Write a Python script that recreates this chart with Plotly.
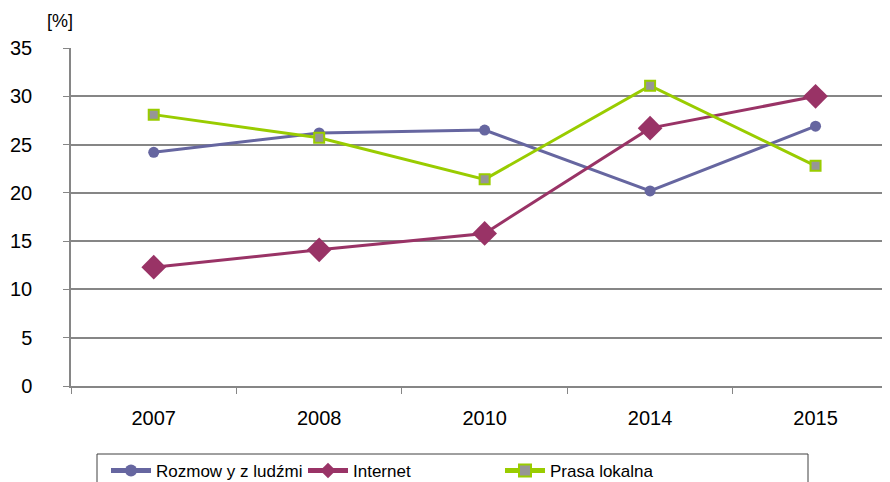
import plotly.graph_objects as go

years = ["2007", "2008", "2010", "2014", "2015"]
rozmowy = [24.2, 26.2, 26.5, 20.2, 26.9]
internet = [12.3, 14.1, 15.8, 26.7, 30.0]
prasa = [28.1, 25.7, 21.4, 31.1, 22.8]
y_ticks = [0, 5, 10, 15, 20, 25, 30, 35]

FONT = "Liberation Sans, Arial, sans-serif"

# page has an 8px body margin, so the figure is sized/offset to compensate
W, H = 882, 474
L, T, B = 63, 40, 96
PW, PH = W - L, H - T - B

fig = go.Figure()
fig.add_trace(go.Scatter(
    x=years, y=rozmowy, name="Rozmow y z ludźmi", mode="lines+markers",
    line=dict(color="#6666A0", width=3),
    marker=dict(symbol="circle", size=11, color="#6666A0"),
))
fig.add_trace(go.Scatter(
    x=years, y=internet, name="Internet", mode="lines+markers",
    line=dict(color="#993366", width=3),
    marker=dict(symbol="diamond", size=19, color="#993366"),
))
fig.add_trace(go.Scatter(
    x=years, y=prasa, name="Prasa lokalna", mode="lines+markers",
    line=dict(color="#99CC00", width=3),
    marker=dict(symbol="square", size=10, color="#969696",
                line=dict(color="#99CC00", width=2)),
))

fig.update_layout(
    width=W, height=H,
    margin=dict(l=L, r=0, t=T, b=B, autoexpand=False),
    paper_bgcolor="white", plot_bgcolor="white",
    font=dict(family=FONT, color="#000000", size=20),
    showlegend=True,
    legend=dict(
        orientation="h", xref="container", yref="container",
        x=98 / W, xanchor="left", y=1 - 445 / H, yanchor="top",
        borderwidth=0, bgcolor="rgba(0,0,0,0)",
        font=dict(family=FONT, size=17),
        entrywidth=142, entrywidthmode="pixels",
        itemsizing="constant", itemwidth=40,
    ),
    xaxis=dict(
        type="category", range=[-0.5, 4.45], automargin=False,
        showline=True, linecolor="#868686", linewidth=1.5,
        ticks="outside", tickson="boundaries", ticklen=6, tickcolor="#868686",
        showgrid=False, tickfont=dict(size=20), ticklabelstandoff=13,
    ),
    yaxis=dict(
        range=[0, 35], tickvals=y_ticks, automargin=False,
        showline=True, linecolor="#868686",
        linewidth=1.5, ticks="outside", ticklen=6, tickcolor="#868686",
        showgrid=True, gridcolor="#868686", gridwidth=1.5, zeroline=False,
        tickfont=dict(size=20), ticklabelstandoff=27,
    ),
    shapes=[dict(
        type="rect", xref="paper", yref="paper",
        x0=(89 - L) / PW, x1=(800 - L) / PW,
        y0=((H - B) - 446) / PH, y1=((H - B) - 500) / PH,
        line=dict(color="#404040", width=1), fillcolor="rgba(0,0,0,0)",
        layer="above",
    )],
    annotations=[dict(
        text="[%]", xref="paper", yref="paper", x=-0.032, y=1.045,
        xanchor="left", yanchor="bottom", showarrow=False,
        font=dict(size=18, family=FONT),
    )],
)

fig.write_html("out.html")
